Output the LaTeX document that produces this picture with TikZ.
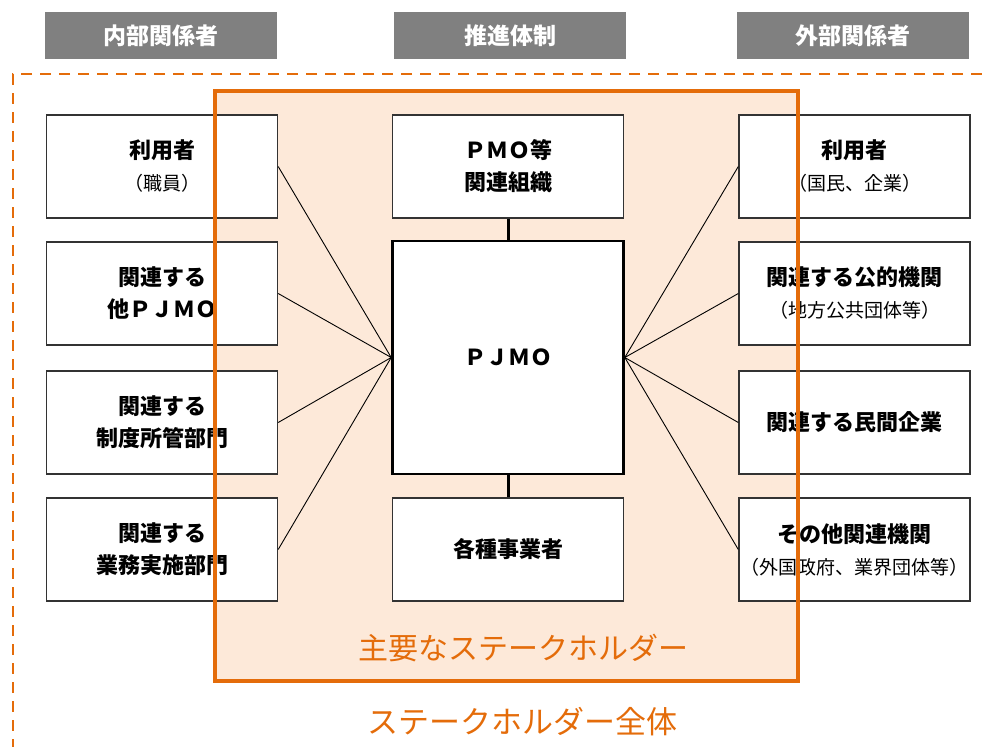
\documentclass[tikz,border=0pt]{standalone}
\usepackage{fontspec}
\setmainfont{Noto Sans CJK JP}
\usetikzlibrary{positioning}
\definecolor{kborange}{HTML}{E46C0A}
\definecolor{kbfill}{HTML}{FDE9D9}
\definecolor{kbgray}{HTML}{808080}
\tikzset{
  head/.style={fill=kbgray, text=white, font=\fontsize{23}{25}\selectfont\bfseries,
    minimum width=232pt, minimum height=47pt, inner sep=0pt},
  member/.style={draw=black!80, line width=1.4pt, fill=white, minimum width=231pt,
    minimum height=103pt, align=center, inner sep=0pt, font=\fontsize{22}{32}\selectfont\bfseries},
  orangelabel/.style={text=kborange, font=\fontsize{30}{32}\selectfont},
}
\newcommand{\subnote}[1]{{\fontsize{19}{32}\selectfont\mdseries #1}}

\begin{document}
\begin{tikzpicture}[x=1pt, y=-1pt]
\useasboundingbox (0,0) rectangle (982,747);
% headers
\node[head] (hin) at (161,35.5) {内部関係者};
\node[head] (hsu) at (510,35.5) {推進体制};
\node[head] (hout) at (853,35.5) {外部関係者};
% all stakeholders
\draw[kborange, line width=2.8pt, dash pattern=on 11pt off 8pt] (982,74) -- (13,74) -- (13,747);
\node[orangelabel, font=\fontsize{31}{32}\selectfont] (all) at (522,722) {ステークホルダー全体};
% main stakeholders
\fill[kbfill] (215,91) rectangle (798,681);
\node[member] (in1) at (162,166.5) {利用者\\\subnote{（職員）}};
\node[member] (in2) at (162,293.5) {関連する\\他ＰＪＭＯ};
\node[member] (in3) at (162,422.5) {関連する\\制度所管部門};
\node[member] (in4) at (162,549.5) {関連する\\業務実施部門};
\node[member] (pmo) at (508,166.5) {ＰＭＯ等\\関連組織};
\node[member, draw=black, line width=2.6pt, minimum height=233pt] (pjmo) at (508,357.5) {ＰＪＭＯ};
\node[member] (vendor) at (508,549.5) {各種事業者};
\node[member] (out1) at (854.5,166.5) {利用者\\\subnote{（国民、企業）}};
\node[member] (out2) at (854.5,293.5) {関連する公的機関\\\subnote{（地方公共団体等）}};
\node[member] (out3) at (854.5,422.5) {関連する民間企業};
\node[member] (out4) at (854.5,549.5) {その他関連機関\\\subnote{（外国政府、業界団体等）}};
\draw[line width=3pt] (pmo.south) -- (pjmo.north);
\draw[line width=3pt] (pjmo.south) -- (vendor.north);
\foreach \i in {1,...,4} {
  \draw[line width=0.9pt] (pjmo.west) -- (in\i.east);
  \draw[line width=0.9pt] (pjmo.east) -- (out\i.west);
}
\draw[kborange, line width=3.5pt] (215,91) rectangle (798,681);
\node[orangelabel] (main) at (523,648) {主要なステークホルダー};
\end{tikzpicture}
\end{document}
